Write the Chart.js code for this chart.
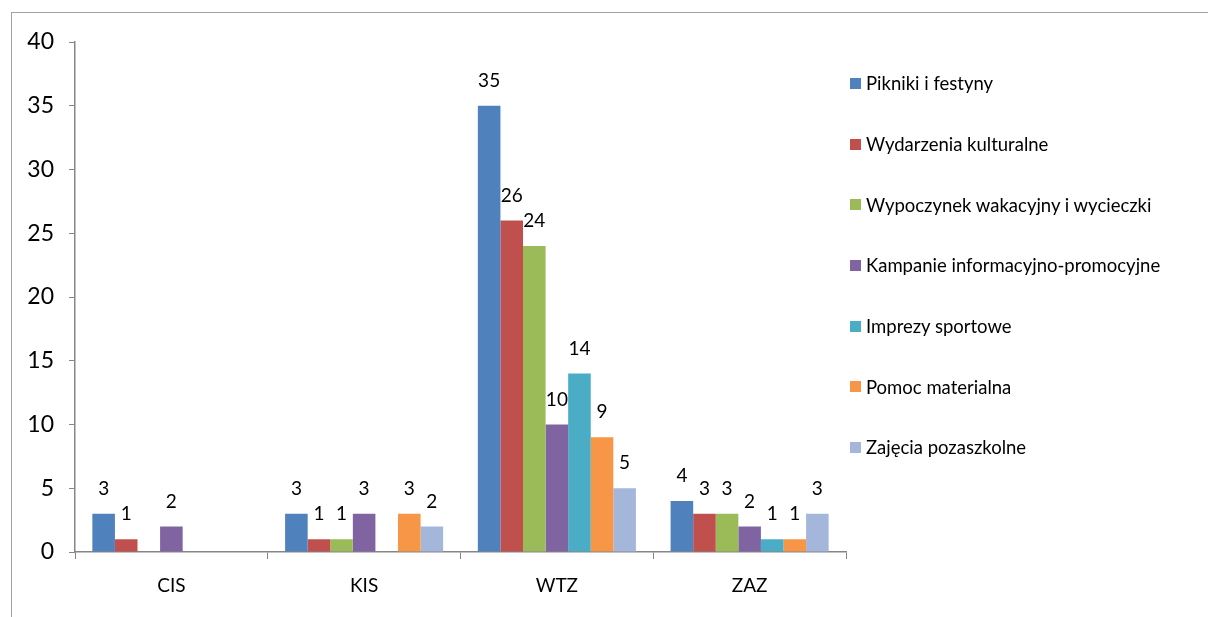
<!DOCTYPE html>
<html>
<head>
<meta charset="utf-8">
<script src="https://cdn.jsdelivr.net/npm/chart.js@4"></script>
<style>
  body { margin: 0; background: #fff; font-family: Lato, sans-serif; }
  #wrap { position: relative; width: 1208px; height: 617px; overflow: hidden; }
  #frame { position: absolute; left: 11px; top: 12px; width: 1300px; height: 700px;
           border-left: 1.5px solid #a0a0a0; border-top: 1.5px solid #a0a0a0; }
  #myChart { position: absolute; left: 0; top: 0; }
  #legend { position: absolute; left: 850px; top: 53px; }
  .item { height: 60.7px; display: flex; align-items: center; font-size: 18.5px; color: #000; white-space: nowrap; }
  .item span { display: inline-block; width: 11px; height: 11px; margin-right: 5px; }
</style>
</head>
<body>
<div id="wrap">
  <div id="frame"></div>
  <canvas id="myChart" width="1208" height="617"></canvas>
  <div id="legend"></div>
</div>
<script>
const categories = ['CIS', 'KIS', 'WTZ', 'ZAZ'];

const pikniki = [3, 3, 35, 4];
const wydarzenia = [1, 1, 26, 3];
const wypoczynek = [null, 1, 24, 3];
const kampanie = [2, 3, 10, 2];
const imprezy = [null, null, 14, 1];
const pomoc = [null, 3, 9, 1];
const zajecia = [null, 2, 5, 3];

const seriesNames = [
  'Pikniki i festyny',
  'Wydarzenia kulturalne',
  'Wypoczynek wakacyjny i wycieczki',
  'Kampanie informacyjno-promocyjne',
  'Imprezy sportowe',
  'Pomoc materialna',
  'Zajęcia pozaszkolne'
];
const seriesValues = [pikniki, wydarzenia, wypoczynek, kampanie, imprezy, pomoc, zajecia];
const colors = ['#4F81BD', '#C0504D', '#9BBB59', '#8064A2', '#4BACC6', '#F79646', '#A4B7DB'];

const yTicks = [0, 5, 10, 15, 20, 25, 30, 35, 40];

// etykiety wartosci nad slupkami
const valueLabels = {
  id: 'valueLabels',
  afterDatasetsDraw(chart) {
    const ctx = chart.ctx;
    ctx.save();
    ctx.font = '19px Lato';
    ctx.fillStyle = '#000';
    ctx.textAlign = 'center';
    ctx.textBaseline = 'middle';
    chart.data.datasets.forEach((ds, i) => {
      chart.getDatasetMeta(i).data.forEach((bar, j) => {
        const v = ds.data[j];
        if (v === null) return;
        ctx.fillText(String(v), bar.x, bar.y - 25);
      });
    });
    ctx.restore();
  }
};

const data = {
  labels: categories,
  datasets: seriesNames.map((name, i) => ({
    label: name,
    data: seriesValues[i],
    backgroundColor: colors[i],
    borderWidth: 0,
    barPercentage: 1,
    categoryPercentage: 0.82
  }))
};

const config = {
  type: 'bar',
  data: data,
  options: {
    responsive: false,
    animation: false,
    layout: { padding: { left: 14, top: 42, right: 362, bottom: 0 } },
    plugins: {
      legend: { display: false },
      tooltip: { enabled: false }
    },
    scales: {
      x: {
        grid: { display: true, drawOnChartArea: false, color: '#868686', tickLength: 7, offset: true },
        border: { color: '#868686', width: 1.5 },
        ticks: { color: '#000', font: { family: 'Lato', size: 19 }, padding: 15 },
        afterFit(axis) { axis.height = 65; }
      },
      y: {
        min: 0,
        max: 40,
        afterBuildTicks(axis) { axis.ticks = yTicks.map(v => ({ value: v })); },
        grid: { display: true, drawOnChartArea: false, color: '#868686', tickLength: 6 },
        border: { color: '#868686', width: 1.5 },
        ticks: { color: '#000', font: { family: 'Lato', size: 23 }, padding: 15 },
        afterFit(axis) { axis.width = 61; }
      }
    }
  },
  plugins: [valueLabels]
};

const myChart = new Chart(
  document.getElementById('myChart'),
  config
);

const legend = document.getElementById('legend');
seriesNames.forEach((name, i) => {
  const row = document.createElement('div');
  row.className = 'item';
  row.innerHTML = '<span style="background:' + colors[i] + '"></span>' + name;
  legend.appendChild(row);
});
</script>
</body>
</html>
